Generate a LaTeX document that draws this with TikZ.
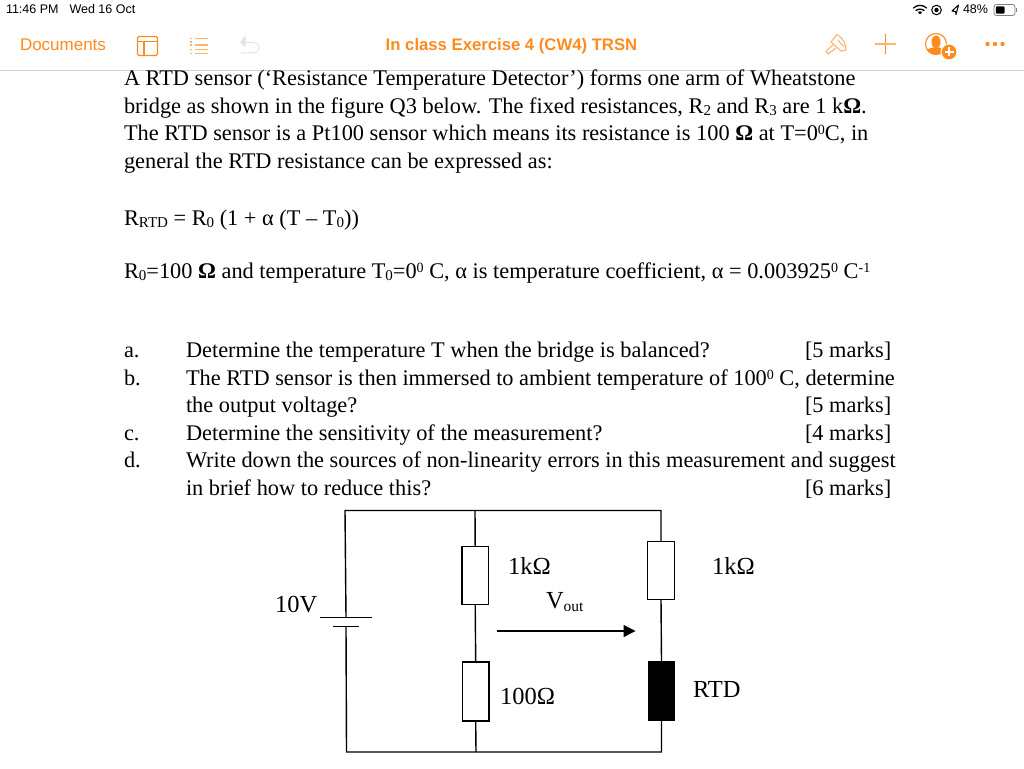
\documentclass[tikz,border=0pt]{standalone}
\usepackage{fontspec}
\setmainfont{Liberation Serif}
\newfontfamily\uifont{Liberation Sans}
\usetikzlibrary{arrows.meta}
\definecolor{uiorange}{HTML}{FF8A1E}
\definecolor{uipale}{HTML}{FFB36B}
\definecolor{uigrey}{HTML}{E2E2E2}
\newcommand{\bodyfs}{\fontsize{22.35}{26}\selectfont}
\newcommand{\sbs}[1]{\raisebox{-2.5pt}{\fontsize{15}{15}\selectfont #1}}
\newcommand{\sps}[1]{\raisebox{6pt}{\fontsize{14}{14}\selectfont #1}}
\tikzset{
 x=1pt,y=-1pt,
 ln/.style={anchor=base west,inner sep=0pt,outer sep=0pt,font=\bodyfs},
 cl/.style={anchor=base west,inner sep=0pt,outer sep=0pt,font=\fontsize{24.5}{26}\selectfont},
 st/.style={anchor=base west,inner sep=0pt,outer sep=0pt,font=\uifont\fontsize{12.5}{14}\selectfont,text=black},
 ui/.style={anchor=base west,inner sep=0pt,outer sep=0pt,font=\uifont\fontsize{17}{19}\selectfont,text=uiorange},
 res/.style={draw,line width=1.4pt,fill=white,minimum width=26.5pt,minimum height=58pt,inner sep=0pt,outer sep=0pt},
 wire/.style={line width=1.4pt},
 ico/.style={draw=uipale,line width=1.1pt},
 icod/.style={draw=uiorange,line width=1.1pt}
}
\begin{document}
\begin{tikzpicture}
\useasboundingbox (0,0) rectangle (1024,768);
\fill[white] (0,0) rectangle (1024,768);
% status bar
\node[st] (time) at (6,14) {11:46 PM};
\node[st] (date) at (69.5,14) {Wed 16 Oct};
\node[st] (pct) at (963,14) {48\%};
% wifi
\begin{scope}[line width=1.3pt,line cap=round]
\draw (913.5,8) .. controls (917,4.5) and (923,4.5) .. (926.5,8);
\draw (916,10.5) .. controls (918,8.7) and (922,8.7) .. (924,10.5);
\fill (920,14.5) -- (917.8,12) .. controls (919,11.2) and (921,11.2) .. (922.2,12) -- cycle;
\end{scope}
% lock rotation
\draw[line width=1pt] (936.5,10) circle (4.8);
\fill (936.5,10) circle (2.2);
% location
\draw[line width=1pt,line join=round] (958.5,5) -- (952,11) -- (955.5,11.5) -- (956,14.5) -- cycle;
% battery
\draw[line width=0.8pt,gray,rounded corners=2.5pt] (994,4.5) rectangle (1015,15.5);
\fill[rounded corners=1pt] (995.8,6.3) rectangle (1004.5,13.7);
\fill[gray] (1016,8) rectangle (1017.2,12.5);
% toolbar
\node[ui] (docs) at (20,51) {Documents};
\node[ui,font=\uifont\bfseries\fontsize{16.7}{19}\selectfont,anchor=base] (title) at (511.5,51) {In class Exercise 4 (CW4) TRSN};
% sidebar icon
\draw[icod,rounded corners=1.5pt] (137.5,36.5) rectangle (157.5,55.5);
\draw[icod] (137.5,41.5) -- (157.5,41.5) (144,41.5) -- (144,55.5);
% list icon
\draw[ico,line width=1.4pt] (195,38.5) -- (208,38.5) (195,45) -- (208,45) (195,53.5) -- (208,53.5);
\draw[ico,line width=1.4pt] (190,38.5) -- (192,38.5) (190,45) -- (192,45) (190,53.5) -- (192,53.5) (190,42) -- (192,42) (190,49.5) -- (192,49.5);
\draw[ico,line width=1.4pt] (195,49.5) -- (208,49.5);
% undo
\draw[uigrey,line width=1pt,rounded corners=5pt] (243,42.5) -- (259,42.5) -- (259,53) -- (241,53);
\fill[uigrey] (240,42.5) -- (245.5,35.5) -- (245.5,47) -- cycle;
% brush
\draw[ico,line join=round] (837,34.5) -- (831,42) -- (841,51) -- (846,50) .. controls (846,44) and (843,38) .. (837,34.5) -- cycle;
\draw[ico,line join=round] (833,45) -- (826,51) -- (828,54) -- (836,48);
\draw[ico] (838,40) -- (844,47);
% plus
\draw[icod,line width=1pt] (885,34) -- (885,54);
\draw[ico,line width=1.2pt] (875,44) -- (896,44);
% collaborate
\draw[icod] (936,44) circle (10.5);
\fill[uiorange] (936,42) ellipse (4.5 and 6.5);
\fill[uiorange] (927.5,50) .. controls (929,46.5) and (943,46.5) .. (944.5,50) .. controls (941,56) and (931,56) .. (927.5,50) -- cycle;
\fill[uiorange,draw=white,line width=1pt] (949,52) circle (8);
\draw[white,line width=1.6pt] (944.5,52) -- (953.5,52) (949,47.5) -- (949,56.5);
% dots
\fill[uiorange] (987.5,44) circle (2.2) (995,44) circle (2.2) (1002.5,44) circle (2.2);
\draw[black!18,line width=0.8pt] (0,70.5) -- (1024,70.5);
% question text
\node[ln] (p1) at (124,85) {A RTD sensor (‘Resistance Temperature Detector’) forms one arm of Wheatstone};
\node[ln] (p2) at (124,113) {bridge as shown in the figure Q3 below. The fixed resistances, R\sbs{2} and R\sbs{3} are 1 k\textbf{Ω}.};
\node[ln] (p3) at (124,140) {The RTD sensor is a Pt100 sensor which means its resistance is 100 \textbf{Ω} at T=0\sps{0}C, in};
\node[ln] (p4) at (124,168) {general the RTD resistance can be expressed as:};
\node[ln] (eq1) at (124,225) {R\sbs{RTD} = R\sbs{0} (1 + α (T – T\sbs{0}))};
\node[ln] (eq2) at (124,278) {R\sbs{0}=100 \textbf{Ω} and temperature T\sbs{0}=0\sps{0} C, α is temperature coefficient, α = 0.003925\sps{0} C\sps{-1}};
\node[ln] (la) at (124,357) {a.};
\node[ln] (qa) at (186,357) {Determine the temperature T when the bridge is balanced?};
\node[ln] (ma) at (805,357) {[5 marks]};
\node[ln] (lb) at (124,385) {b.};
\node[ln] (qb) at (186,385) {The RTD sensor is then immersed to ambient temperature of 100\sps{0} C, determine};
\node[ln] (qb2) at (186,412) {the output voltage?};
\node[ln] (mb) at (805,412) {[5 marks]};
\node[ln] (lc) at (124,440) {c.};
\node[ln] (qc) at (186,440) {Determine the sensitivity of the measurement?};
\node[ln] (mc) at (805,440) {[4 marks]};
\node[ln] (ld) at (124,467) {d.};
\node[ln] (qd) at (186,467) {Write down the sources of non-linearity errors in this measurement and suggest};
\node[ln] (qd2) at (186,495) {in brief how to reduce this?};
\node[ln] (md) at (805,495) {[6 marks]};
% circuit
\coordinate (tl) at (345,510.5);
\coordinate (tm) at (475,510.5);
\coordinate (tr) at (661,510.5);
\coordinate (bl) at (346.5,752);
\coordinate (bm) at (476,752);
\coordinate (br) at (661.5,752);
\node[res] (r1) at (475.2,575.5) {};
\node[res,minimum height=59pt] (r3) at (475.7,691.5) {};
\node[res] (r2) at (661,570.5) {};
\node[res,fill=black,minimum height=59pt] (rtd) at (661.5,691.2) {};
\node[inner sep=0pt,minimum width=52pt,minimum height=0pt,outer sep=0pt] (platea) at (346,617.5) {};
\node[inner sep=0pt,minimum width=26pt,minimum height=0pt,outer sep=0pt] (plateb) at (346,626.5) {};
\draw[wire] (platea.west) -- (platea.east);
\draw[wire] (plateb.west) -- (plateb.east);
\draw[wire] (platea.center) -- (tl) -- (tr) -- (r2.north);
\draw[wire] (plateb.center) -- (bl) -- (br) -- (rtd.south);
\draw[wire] (tm) -- (r1.north);
\draw[wire] (r1.south) -- (r3.north);
\draw[wire] (r3.south) -- (bm);
\draw[wire] (r2.south) -- (rtd.north);
\coordinate (va) at (496.5,631);
\coordinate (vb) at (635.5,631);
\draw[line width=1.2pt,-{Triangle[length=12pt,width=12pt]}] (va) -- (vb);
\node[cl] (v10) at (275,612.5) {10V};
\node[cl] (k1) at (508,574) {1kΩ};
\node[cl] (k2) at (712,574) {1kΩ};
\node[cl] (vo) at (546,608) {V\raisebox{-3pt}{\fontsize{15.5}{16}\selectfont out}};
\node[cl] (h1) at (500,704) {100Ω};
\node[cl] (rt) at (693,697) {RTD};
\end{tikzpicture}
\end{document}
